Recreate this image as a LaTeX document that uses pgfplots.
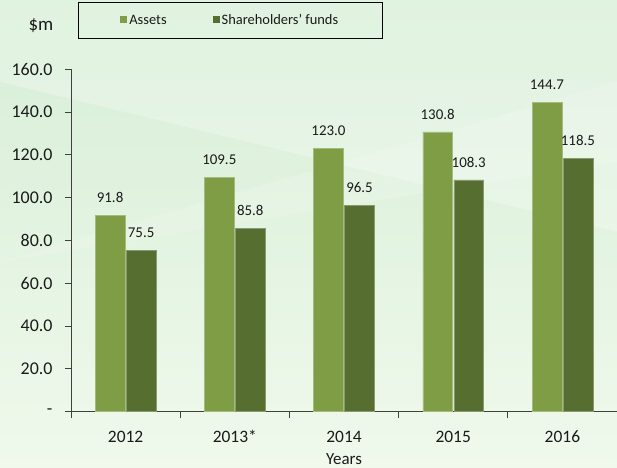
\documentclass[border=0pt]{standalone}
\usepackage{pgfplots}
\pgfplotsset{compat=1.18}
\usepackage{fontspec}
\setmainfont{Carlito}

\definecolor{assets}{HTML}{7E9D45}
\definecolor{funds}{HTML}{566F30}
\definecolor{bgtop}{HTML}{D6EED6}
\definecolor{bgbot}{HTML}{F0F9EC}
\definecolor{txt}{HTML}{1A1A1A}

\begin{document}
\begin{tikzpicture}[x=1bp,y=1bp]
% background (picture is 617 x 468 px, axis origin at px (71, 411.7))
\shade[shading angle=30, top color=bgtop, bottom color=bgbot] (-71,-56.3) rectangle (546,411.7);
\fill[white, opacity=0.25] (-71,330) -- (546,180) -- (546,411.7) -- (-71,411.7) -- cycle;
\fill[white, opacity=0.15] (-71,150) -- (546,330) -- (546,250) -- cycle;

\begin{axis}[
    at={(0,0)}, anchor=south west,
    scale only axis,
    width=546bp, height=342.4bp,
    xmin=-0.5, xmax=4.5,
    ymin=0, ymax=160,
    axis lines*=left,
    axis line style={draw=black!75, line width=0.8pt},
    ybar, bar width=0.272,
    xtick={0,1,2,3,4},
    xticklabels={2012,2013*,2014,2015,2016},
    minor xtick={-0.5,0.5,1.5,2.5,3.5,4.5},
    major x tick style={draw=none},
    minor tick length=6bp,
    ytick={0,20,...,160},
    yticklabels={-,20.0,40.0,60.0,80.0,100.0,120.0,140.0,160.0},
    major tick length=6bp,
    tick align=outside,
    tick style={draw=black!75, line width=0.8pt},
    yticklabel style={font=\fontsize{18}{20}\selectfont, text=txt, xshift=-9bp},
    xticklabel style={font=\fontsize{17.5}{20}\selectfont, text=txt, anchor=center, yshift=-19bp},
    xlabel={Years},
    xlabel style={font=\fontsize{17}{19}\selectfont, text=txt, anchor=center, at={(axis description cs:0.5,0)}, yshift=-47bp},
    nodes near coords,
    /pgf/number format/fixed,
    /pgf/number format/fixed zerofill,
    /pgf/number format/precision=1,
    /pgf/number format/assume math mode=true,
    nodes near coords style={font=\fontsize{15}{17}\selectfont, text=txt, yshift=9bp},
    legend columns=2,
    legend style={at={(0.0128,1.196)}, anchor=north west, draw=black, line width=0.8pt, fill=none,
        inner xsep=42bp, inner ysep=10bp,
        font=\fontsize{14.5}{17}\selectfont, text=txt,
        /tikz/every even column/.append style={column sep=44bp}},
    legend cell align=left,
    legend image code/.code={\fill[#1, draw=none] (0bp,-3bp) rectangle (7bp,4bp);},
    clip=false,
]
\addplot[fill=assets, draw=assets!70!white, line width=0.4pt, bar shift=-0.142] coordinates {
    (0,91.8) (1,109.5) (2,123.0) (3,130.8) (4,144.7)};
\addlegendentry{Assets}
\addplot[fill=funds, draw=funds!70!white, line width=0.4pt, bar shift=0.142] coordinates {
    (0,75.5) (1,85.8) (2,96.5) (3,108.3) (4,118.5)};
\addlegendentry{Shareholders' funds}
\end{axis}
\node[font=\fontsize{19}{21}\selectfont, text=txt] at (41-71,411.7-26) {\$m};
\pgfresetboundingbox
\path (-71,-56.3) rectangle (546,411.7);
\end{tikzpicture}
\end{document}
